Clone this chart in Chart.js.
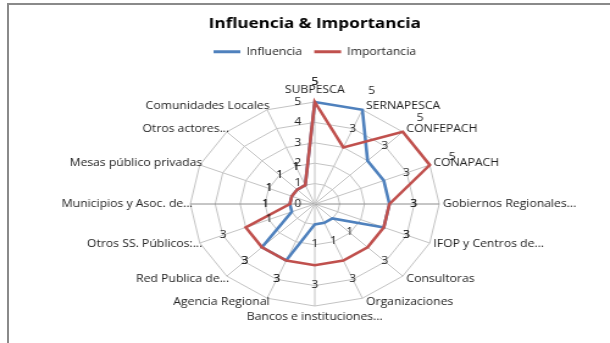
<!DOCTYPE html>
<html><head><meta charset="utf-8">
<script src="https://cdn.jsdelivr.net/npm/chart.js@4.4.1/dist/chart.umd.min.js"></script>
<style>
html,body{margin:0;padding:0;background:#fff;overflow:hidden;width:610px;height:343px;}
#frame{position:absolute;left:7px;top:3px;width:610px;height:350px;border-top:2px solid #8a8a8a;border-left:2px solid #8a8a8a;box-sizing:border-box;}
#wrap{position:absolute;left:0;top:0;width:500px;height:343px;transform:scaleX(1.22);transform-origin:0 0;}
</style></head><body>
<div id="frame"></div>
<div id="wrap"><canvas id="c"></canvas></div>
<script>
const categories = ["SUBPESCA","SERNAPESCA","CONFEPACH","CONAPACH","Gobiernos Regionales...","IFOP y Centros de...","Consultoras","Organizaciones","Bancos e instituciones...","Agencia Regional","Red Publica de...","Otros SS. Públicos:...","Municipios y Asoc. de...","Mesas público privadas","Otros actores...","Comunidades Locales"];
const influencia  = [5,5,3,3,3,3,1,1,1,3,3,1,1,1,1,1];
const importancia = [5,3,5,5,3,3,3,3,3,3,3,3,1,1,1,1];
const tickValues = [0,1,2,3,4,5];
const seriesNames = ["Influencia","Importancia"];
const chartTitle = "Influencia & Importancia";

const FONT = "'Open Sans', 'Liberation Sans', sans-serif";

const legendGap = {
  id: 'legendGap',
  beforeInit(chart) {
    const orig = chart.legend.fit;
    chart.legend.fit = function () { orig.call(this); this.height += 35.8; };
  }
};

const textPlugin = {
  id: 'texts',
  afterDatasetsDraw(chart) {
    const s = chart.scales.r;
    const ctx = chart.ctx;
    ctx.save();
    ctx.font = `10px ${FONT}`;
    ctx.fillStyle = '#222';
    ctx.textBaseline = 'middle';
    // value-axis tick labels
    ctx.textAlign = 'right';
    tickValues.forEach(v => {
      const d = s.getDistanceFromCenterForValue(v);
      ctx.fillText(String(v), s.xCenter - 11, s.yCenter - d);
    });
    // data labels
    ctx.textAlign = 'center';
    chart.data.datasets.forEach(ds => {
      ds.data.forEach((v, i) => {
        const p = s.getPointPosition(i, s.getDistanceFromCenterForValue(v) + 20);
        ctx.fillText(String(v), p.x, p.y);
      });
    });
    // category labels
    const N = categories.length;
    categories.forEach((lab, i) => {
      const th = i * 2 * Math.PI / N;
      const p = s.getPointPosition(i, s.drawingArea);
      const sn = Math.sin(th), cs = Math.cos(th);
      let x = p.x, y = p.y;
      if (Math.abs(sn) < 1e-6) {
        ctx.textAlign = 'center';
        y += cs > 0 ? -12 : 11.5;
      } else {
        ctx.textAlign = sn > 0 ? 'left' : 'right';
        x += sn > 0 ? 3 : 2;
        y -= 4 * cs;
      }
      ctx.fillText(lab, x, y);
    });
    ctx.restore();
  }
};

new Chart(document.getElementById('c'), {
  type: 'radar',
  data: {
    labels: categories,
    datasets: [
      { label: seriesNames[0], data: influencia, borderColor: '#4F81BD', backgroundColor: '#4F81BD',
        borderWidth: 2.6, fill: false, pointRadius: 0, pointHoverRadius: 0, tension: 0, order: 1 },
      { label: seriesNames[1], data: importancia, borderColor: '#C0504D', backgroundColor: '#C0504D',
        borderWidth: 2.6, fill: false, pointRadius: 0, pointHoverRadius: 0, tension: 0, order: 0 }
    ]
  },
  options: {
    responsive: true, maintainAspectRatio: false, animation: false, devicePixelRatio: 1,
    layout: { padding: { left: 100, right: 84, top: 0, bottom: 36.4 } },
    plugins: {
      title: { display: true, text: chartTitle, color: '#000',
        font: { family: FONT, size: 14, weight: 'bold' }, padding: { top: 16, bottom: 4 } },
      legend: {
        display: true,
        labels: {
          font: { family: FONT, size: 10 }, color: '#222', boxWidth: 22, boxHeight: 3, padding: 10,
          sort: (a, b) => a.datasetIndex - b.datasetIndex,
          generateLabels(chart) {
            const items = Chart.defaults.plugins.legend.labels.generateLabels(chart);
            items.forEach(it => { it.fillStyle = it.strokeStyle; it.lineWidth = 0; });
            return items;
          }
        }
      },
      tooltip: { enabled: false }
    },
    scales: {
      r: {
        min: 0, max: 5,
        ticks: { display: false, stepSize: 1 },
        pointLabels: { display: false },
        grid: { color: '#c3c3c3', lineWidth: 1 },
        angleLines: { color: c => (c.index % 8 === 4 ? '#8c8c8c' : '#c3c3c3'), lineWidth: 1 }
      }
    }
  },
  plugins: [legendGap, textPlugin]
});
</script>
</body></html>
